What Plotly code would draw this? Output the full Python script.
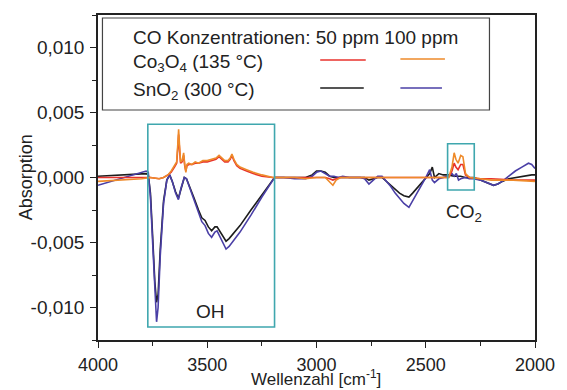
import plotly.graph_objects as go

# ---------------- data (absorption in units of 1e-3) ----------------
wn_sno2 = [4000, 3900, 3780, 3770, 3760, 3750, 3740, 3732, 3725, 3715, 3700, 3685, 3672, 3660,
           3645, 3632, 3620, 3605, 3595, 3580, 3560, 3540, 3525, 3510, 3495, 3480, 3465, 3455,
           3440, 3425, 3414, 3400, 3350, 3300, 3250, 3192, 3150, 3100, 3050, 3020, 3000, 2980,
           2960, 2940, 2920, 2900, 2880, 2850, 2820, 2800, 2780, 2760, 2740, 2720, 2700, 2680,
           2660, 2640, 2620, 2600, 2577, 2560, 2540, 2520, 2500, 2482, 2470, 2460, 2440, 2420,
           2400, 2380, 2370, 2360, 2350, 2340, 2320, 2300, 2280, 2250, 2220, 2190, 2170, 2150,
           2120, 2090, 2060, 2030, 2015, 2000]
sno2_100 = [-0.6, -0.1, 0.5, 0.4, -1.5, -5.0, -9.0, -11.1, -10.0, -6.0, -2.0, -0.2, 0.2, -0.3,
            -1.2, -1.7, -0.8, 0.0, -0.1, -0.8, -1.8, -2.8, -3.4, -3.7, -4.3, -4.6, -4.2, -4.1,
            -4.6, -5.1, -5.5, -5.3, -4.2, -2.9, -1.5, 0.0, 0.0, -0.1, -0.1, 0.1, 0.4, 0.5,
            0.3, 0.1, 0.1, 0.0, 0.1, 0.0, 0.0, 0.0, -0.1, -0.5, -0.2, 0.1, 0.1, -0.3,
            -0.7, -1.2, -1.6, -2.0, -2.3, -1.8, -1.3, -0.6, 0.0, 0.6, -0.2, -0.4, -0.1, 0.0,
            0.1, 0.3, 0.1, 0.3, -0.2, -0.1, 0.0, -0.1, -0.1, -0.2, -0.4, -0.6, -0.5, -0.3,
            0.1, 0.5, 0.8, 1.1, 1.0, 0.7]
sno2_50 = [0.1, 0.2, 0.3, 0.2, -1.2, -4.5, -8.0, -9.6, -9.0, -5.5, -1.8, -0.2, 0.2, -0.3,
           -1.1, -1.6, -0.8, 0.0, -0.1, -0.7, -1.6, -2.5, -3.1, -3.3, -3.8, -4.1, -3.8, -3.8,
           -4.2, -4.6, -4.9, -4.7, -3.7, -2.5, -1.3, 0.0, 0.0, 0.0, 0.0, 0.2, 0.5, 0.5,
           0.4, 0.1, 0.0, 0.0, 0.0, 0.0, 0.0, 0.0, 0.0, -0.2, -0.1, 0.0, 0.0, -0.3,
           -0.6, -0.9, -1.2, -1.4, -1.5, -1.2, -0.8, -0.4, 0.0, 0.3, 0.8, 0.0, 0.3, 0.2,
           0.2, 0.1, 0.1, 0.1, 0.1, 0.1, 0.0, 0.0, 0.0, -0.2, -0.4, -0.6, -0.5, -0.3,
           -0.1, 0.0, 0.1, 0.2, 0.2, 0.2]

wn_co3o4 = [4000, 3900, 3800, 3760, 3720, 3700, 3680, 3665, 3650, 3640, 3635, 3631, 3627, 3622,
            3615, 3608, 3603, 3598, 3593, 3585, 3570, 3555, 3540, 3520, 3500, 3480, 3460, 3446,
            3435, 3420, 3405, 3395, 3387, 3378, 3365, 3350, 3320, 3290, 3250, 3200, 3150, 3100,
            3050, 3000, 2960, 2940, 2925, 2910, 2890, 2800, 2700, 2600, 2500, 2420, 2395, 2380,
            2370, 2362, 2352, 2340, 2330, 2318, 2300, 2250, 2200, 2100, 2000]
co3o4_100 = [-0.3, -0.2, -0.1, 0.0, -0.1, 0.0, 0.2, 0.5, 0.9, 1.2, 2.5, 3.7, 2.5, 1.2,
             1.3, 1.9, 1.0, 0.4, 1.0, 1.1, 1.0, 1.2, 1.1, 1.3, 1.3, 1.4, 1.5, 1.7,
             1.5, 1.3, 1.3, 1.5, 1.8, 1.4, 1.0, 0.8, 0.6, 0.4, 0.2, 0.0, 0.0, 0.0,
             -0.1, 0.0, 0.0, -0.3, -0.6, -0.2, 0.0, 0.0, 0.0, 0.0, 0.0, 0.0, 0.0, 0.8,
             1.9, 1.4, 1.1, 1.7, 1.6, 0.3, 0.0, -0.1, -0.2, -0.2, -0.3]
co3o4_50 = [0.0, 0.0, 0.0, 0.0, -0.1, 0.0, 0.2, 0.4, 0.8, 1.1, 2.2, 3.3, 2.2, 1.1,
            1.2, 1.7, 0.9, 0.5, 0.9, 1.0, 1.0, 1.1, 1.1, 1.2, 1.2, 1.3, 1.4, 1.6,
            1.4, 1.2, 1.2, 1.4, 1.7, 1.3, 0.9, 0.7, 0.5, 0.3, 0.1, 0.0, 0.0, 0.0,
            0.0, 0.0, 0.0, -0.1, -0.2, -0.1, 0.0, 0.0, 0.0, 0.0, 0.0, 0.0, 0.0, 0.5,
            1.1, 0.8, 0.6, 1.0, 1.0, 0.2, 0.0, -0.1, -0.1, -0.2, -0.2]

x_ticks = [4000, 3500, 3000, 2500, 2000]
x_ticklabels = ["4000", "3500", "3000", "2500", "2000"]
y_ticks = [-0.010, -0.005, 0.0, 0.005, 0.010]
y_ticklabels = ["-0,010", "-0,005", "0,000", "0,005", "0,010"]

oh_box = dict(x0=3772, x1=3192, y0=-0.0115, y1=0.0041)
co2_box = dict(x0=2400, x1=2278, y0=-0.00096, y1=0.0026)

# ---------------- layout helpers (pixel -> paper) ----------------
PL, PR, PT, PB = 97.5, 539.0, 15.0, 340.0
def px(x):
    return (x - PL) / (PR - PL)
def py(y):
    return (PB - y) / (PB - PT)

RED = "#e8322c"
ORANGE = "#ee8a2a"
BLACK = "#1c1c1c"
BLUE = "#4a3fa6"
TEAL = "#3fa7ae"
FONT = "Liberation Sans, Arial, sans-serif"

fig = go.Figure()
for xs, ys, col in [(wn_sno2, sno2_50, BLACK), (wn_sno2, sno2_100, BLUE),
                    (wn_co3o4, co3o4_50, RED), (wn_co3o4, co3o4_100, ORANGE)]:
    fig.add_trace(go.Scatter(x=xs, y=[v * 1e-3 for v in ys], mode="lines",
                             line=dict(color=col, width=1.6), showlegend=False,
                             hoverinfo="skip"))

shapes = []
for b in (oh_box, co2_box):
    shapes.append(dict(type="rect", xref="x", yref="y", x0=b["x0"], x1=b["x1"],
                       y0=b["y0"], y1=b["y1"], line=dict(color=TEAL, width=1.6)))
# legend frame
shapes.append(dict(type="rect", xref="paper", yref="paper", x0=px(102), x1=px(493),
                   y0=py(110), y1=py(18), line=dict(color="#444444", width=1.2),
                   fillcolor="white", layer="above"))
for (x0, x1, y, col) in [(322, 368, 60, RED), (403, 448, 59, ORANGE),
                         (322, 366, 88, BLACK), (403, 445, 88, BLUE)]:
    shapes.append(dict(type="line", xref="paper", yref="paper", x0=px(x0), x1=px(x1),
                       y0=py(y), y1=py(y), line=dict(color=col, width=1.6), layer="above"))

ann = []
def txt(text, x, y, xanchor="left", yanchor="middle", size=19, **kw):
    ann.append(dict(text=text, xref="paper", yref="paper", x=px(x), y=py(y),
                    xanchor=xanchor, yanchor=yanchor, showarrow=False,
                    font=dict(family=FONT, size=size, color="#222222"), **kw))

txt("CO Konzentrationen: 50 ppm 100 ppm", 131, 37)
txt("Co<sub>3</sub>O<sub>4</sub> (135 °C)", 131, 63)
txt("SnO<sub>2</sub> (300 °C)", 131, 91)
txt("OH", 211, 311, xanchor="center")
txt("CO<sub>2</sub>", 467, 213, xanchor="center")
txt("Wellenzahl [cm<sup>-1</sup>]", 318, 391, xanchor="center", yanchor="bottom", size=17)
txt("Absorption", 25, 177, xanchor="center", textangle=-90, size=18)

axis_common = dict(showline=True, linecolor="#222222", linewidth=1.5, mirror=True,
                   ticks="outside", ticklen=6, tickwidth=1.3, tickcolor="#222222",
                   showgrid=False, zeroline=False)

fig.update_layout(
    width=567, height=390,
    margin=dict(l=PL, r=567 - PR, t=PT, b=390 - PB, pad=0),
    paper_bgcolor="white", plot_bgcolor="white",
    xaxis=dict(range=[4000, 2000], tickvals=x_ticks, ticktext=x_ticklabels,
               ticklabelstandoff=2,
               tickfont=dict(family=FONT, size=18, color="#222222"),
               minor=dict(ticks="outside", ticklen=4, tickwidth=1.2, tickcolor="#222222",
                          dtick=250, tick0=2000),
               **axis_common),
    yaxis=dict(range=[-0.0125, 0.0125], tickvals=y_ticks, ticktext=y_ticklabels,
               ticklabelstandoff=2,
               tickfont=dict(family=FONT, size=19, color="#222222"),
               minor=dict(ticks="outside", ticklen=4, tickwidth=1.2, tickcolor="#222222",
                          dtick=0.0025, tick0=0),
               **axis_common),
    shapes=shapes, annotations=ann,
)
fig.write_html("out.html")
